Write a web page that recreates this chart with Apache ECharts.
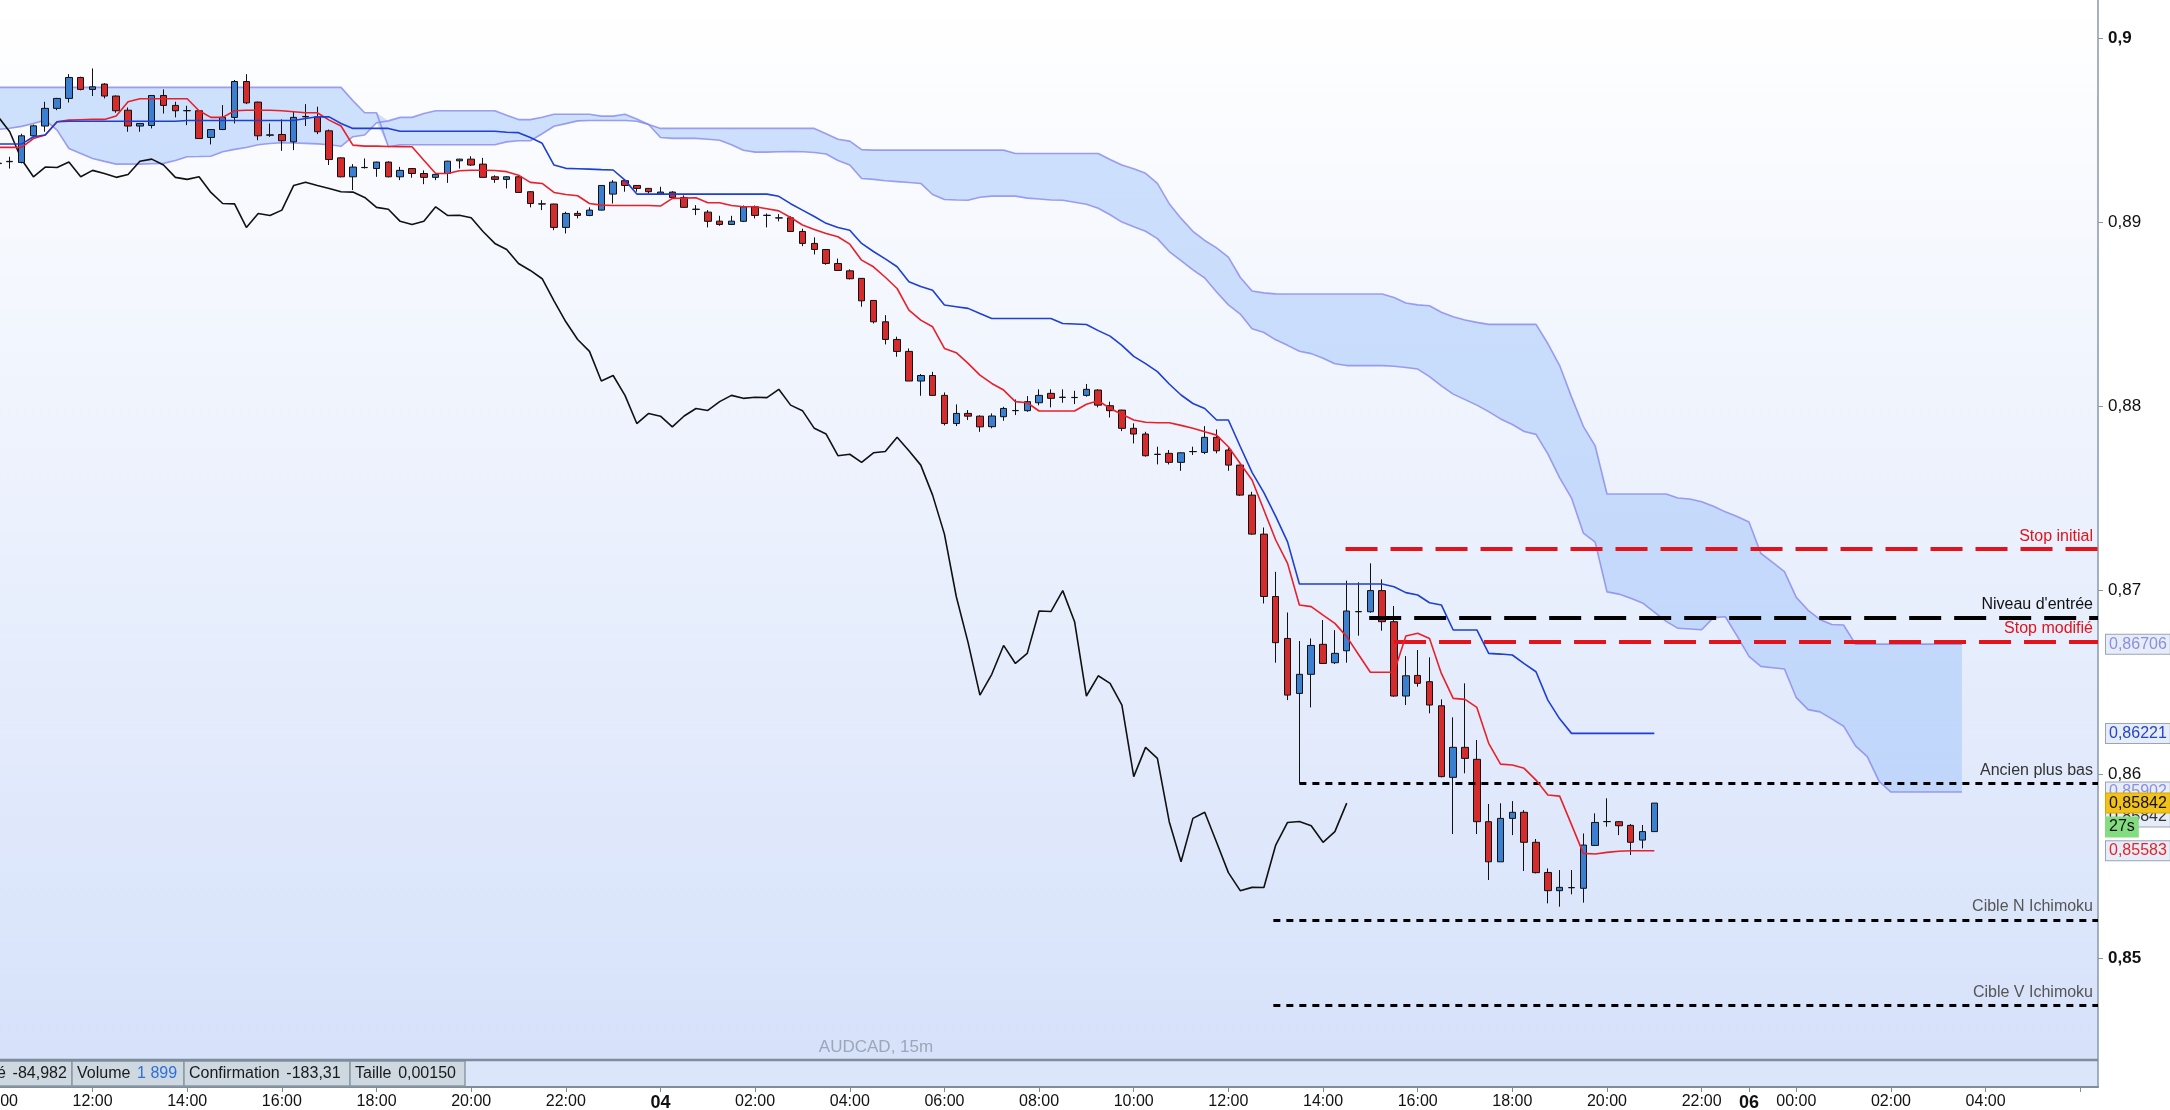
<!DOCTYPE html>
<html><head><meta charset="utf-8">
<script src="https://cdn.jsdelivr.net/npm/echarts@6/dist/echarts.min.js"></script>
<style>html,body{margin:0;padding:0;background:#fff;}#c{width:2170px;height:1110px;}</style>
</head><body><div id="c"></div>
<script>
// ---- candles (15m slots from 03 10:00) ----
const opens = [0.89320,0.89328,0.89324,0.89469,0.89522,0.89618,0.89672,0.89786,0.89721,0.89750,
0.89685,0.89608,0.89522,0.89525,0.89688,0.89634,0.89605,0.89605,0.89460,0.89503,
0.89569,0.89764,0.89652,0.89472,0.89476,0.89436,0.89572,0.89572,0.89496,0.89349,
0.89246,0.89296,0.89291,0.89326,0.89246,0.89291,0.89264,0.89243,0.89264,0.89333,
0.89342,0.89315,0.89246,0.89232,0.89246,0.89165,0.89098,0.89098,0.88971,0.89047,
0.89036,0.89065,0.89152,0.89225,0.89199,0.89183,0.89152,0.89163,0.89134,0.89069,
0.89054,0.89005,0.88987,0.89004,0.89083,0.89036,0.89022,0.89023,0.88949,0.88884,
0.88851,0.88775,0.88735,0.88694,0.88574,0.88458,0.88362,0.88297,0.88136,0.88166,
0.88058,0.87905,0.87960,0.87945,0.87888,0.87942,0.87975,0.87975,0.88018,0.88069,
0.88047,0.88047,0.88058,0.88087,0.88002,0.87978,0.87879,0.87848,0.87737,0.87743,
0.87694,0.87752,0.87748,0.87830,0.87761,0.87679,0.87516,0.87304,0.86965,0.86737,
0.86438,0.86542,0.86705,0.86605,0.86670,0.86882,0.86882,0.86997,0.86828,0.86424,
0.86536,0.86502,0.86371,0.85982,0.86145,0.86080,0.85741,0.85523,0.85759,0.85792,
0.85629,0.85465,0.85366,0.85382,0.85379,0.85612,0.85741,0.85741,0.85721,0.85641,
0.85687];
const closes = [0.89318,0.89330,0.89469,0.89523,0.89618,0.89672,0.89786,0.89721,0.89735,0.89685,
0.89605,0.89522,0.89536,0.89688,0.89634,0.89605,0.89606,0.89454,0.89503,0.89569,
0.89764,0.89648,0.89469,0.89474,0.89442,0.89569,0.89574,0.89491,0.89340,0.89246,
0.89299,0.89297,0.89326,0.89246,0.89281,0.89264,0.89243,0.89259,0.89331,0.89342,
0.89310,0.89243,0.89232,0.89246,0.89161,0.89101,0.89099,0.88971,0.89047,0.89036,
0.89065,0.89199,0.89217,0.89199,0.89183,0.89165,0.89163,0.89134,0.89080,0.89070,
0.89004,0.88987,0.89005,0.89083,0.89036,0.89037,0.89023,0.88949,0.88884,0.88851,
0.88775,0.88737,0.88692,0.88572,0.88458,0.88362,0.88297,0.88136,0.88166,0.88058,
0.87905,0.87960,0.87945,0.87887,0.87946,0.87987,0.87976,0.88024,0.88058,0.88042,
0.88048,0.88046,0.88091,0.88005,0.87975,0.87879,0.87848,0.87730,0.87738,0.87694,
0.87746,0.87753,0.87830,0.87757,0.87679,0.87516,0.87304,0.86965,0.86714,0.86429,
0.86542,0.86699,0.86601,0.86656,0.86886,0.86883,0.86997,0.86828,0.86424,0.86534,
0.86493,0.86375,0.85986,0.86145,0.86085,0.85741,0.85523,0.85759,0.85792,0.85629,
0.85464,0.85366,0.85384,0.85383,0.85614,0.85737,0.85742,0.85719,0.85629,0.85687,
0.85842];
const lows = [0.89310,0.89291,0.89319,0.89460,0.89491,0.89608,0.89650,0.89716,0.89685,0.89672,
0.89594,0.89491,0.89491,0.89509,0.89590,0.89569,0.89527,0.89452,0.89422,0.89500,
0.89536,0.89641,0.89445,0.89463,0.89387,0.89391,0.89522,0.89478,0.89310,0.89243,
0.89174,0.89291,0.89246,0.89243,0.89228,0.89241,0.89206,0.89228,0.89213,0.89291,
0.89305,0.89243,0.89213,0.89183,0.89158,0.89080,0.89065,0.88956,0.88938,0.89020,
0.89032,0.89063,0.89101,0.89165,0.89165,0.89156,0.89147,0.89129,0.89078,0.89038,
0.88971,0.88980,0.88985,0.89000,0.89020,0.88971,0.89004,0.88947,0.88869,0.88824,
0.88768,0.88737,0.88688,0.88540,0.88449,0.88335,0.88268,0.88136,0.88056,0.88056,
0.87895,0.87891,0.87924,0.87860,0.87879,0.87920,0.87951,0.87969,0.88004,0.87993,
0.88018,0.88011,0.88051,0.87993,0.87938,0.87864,0.87797,0.87725,0.87683,0.87683,
0.87648,0.87734,0.87739,0.87743,0.87648,0.87511,0.87300,0.86927,0.86605,0.86402,
0.85949,0.86362,0.86598,0.86598,0.86605,0.86752,0.86877,0.86779,0.86420,0.86375,
0.86475,0.86330,0.85982,0.85674,0.86004,0.85674,0.85424,0.85523,0.85668,0.85473,
0.85460,0.85297,0.85279,0.85346,0.85301,0.85609,0.85714,0.85668,0.85560,0.85596,
0.85687];
const highs = [0.89325,0.89355,0.89480,0.89530,0.89654,0.89675,0.89804,0.89790,0.89835,0.89755,
0.89688,0.89623,0.89538,0.89690,0.89721,0.89654,0.89632,0.89607,0.89505,0.89636,
0.89772,0.89804,0.89655,0.89536,0.89558,0.89603,0.89641,0.89627,0.89503,0.89352,
0.89315,0.89346,0.89328,0.89330,0.89300,0.89293,0.89281,0.89261,0.89333,0.89344,
0.89358,0.89349,0.89254,0.89250,0.89250,0.89168,0.89119,0.89100,0.89056,0.89061,
0.89080,0.89201,0.89228,0.89232,0.89200,0.89185,0.89192,0.89168,0.89145,0.89092,
0.89065,0.89034,0.89034,0.89090,0.89090,0.89047,0.89043,0.89032,0.88964,0.88917,
0.88853,0.88802,0.88743,0.88696,0.88576,0.88494,0.88377,0.88313,0.88174,0.88186,
0.88074,0.88009,0.87978,0.87950,0.87960,0.87996,0.88036,0.88054,0.88091,0.88091,
0.88091,0.88083,0.88120,0.88091,0.88024,0.87980,0.87906,0.87860,0.87779,0.87761,
0.87748,0.87779,0.87891,0.87873,0.87775,0.87681,0.87534,0.87340,0.87099,0.86878,
0.86723,0.86737,0.86837,0.86782,0.87051,0.87042,0.87145,0.87058,0.86913,0.86641,
0.86674,0.86634,0.86406,0.86308,0.86493,0.86185,0.85837,0.85841,0.85853,0.85804,
0.85647,0.85487,0.85478,0.85478,0.85677,0.85786,0.85868,0.85743,0.85728,0.85723,
0.85842];
// ---- Ichimoku lines ----
const tenkan = [0.89406,0.89406,0.89406,0.89454,0.89473,0.89545,0.89554,0.89556,0.89558,0.89558,
0.89576,0.89654,0.89670,0.89670,0.89670,0.89670,0.89670,0.89605,0.89569,0.89569,
0.89605,0.89608,0.89608,0.89608,0.89605,0.89600,0.89594,0.89594,0.89554,0.89522,
0.89418,0.89413,0.89413,0.89411,0.89410,0.89409,0.89336,0.89264,0.89264,0.89279,
0.89282,0.89282,0.89280,0.89274,0.89255,0.89216,0.89210,0.89161,0.89150,0.89143,
0.89101,0.89092,0.89090,0.89090,0.89090,0.89090,0.89087,0.89129,0.89130,0.89132,
0.89105,0.89105,0.89090,0.89083,0.89083,0.89072,0.89061,0.89025,0.88984,0.88960,
0.88938,0.88920,0.88880,0.88793,0.88757,0.88700,0.88639,0.88522,0.88467,0.88431,
0.88313,0.88290,0.88232,0.88168,0.88123,0.88087,0.88024,0.88018,0.87973,0.87973,
0.87973,0.87973,0.88010,0.88029,0.87987,0.87955,0.87924,0.87912,0.87909,0.87909,
0.87895,0.87879,0.87860,0.87842,0.87779,0.87688,0.87598,0.87435,0.87272,0.87145,
0.86919,0.86910,0.86864,0.86819,0.86747,0.86650,0.86553,0.86553,0.86553,0.86750,
0.86765,0.86737,0.86547,0.86411,0.86406,0.86362,0.86167,0.86054,0.86049,0.86031,
0.85967,0.85886,0.85880,0.85725,0.85569,0.85565,0.85574,0.85580,0.85583,0.85583,
0.85583];
const kijun = [0.89424,0.89424,0.89424,0.89464,0.89473,0.89545,0.89548,0.89548,0.89548,0.89548,
0.89548,0.89548,0.89548,0.89548,0.89548,0.89548,0.89552,0.89552,0.89552,0.89552,
0.89552,0.89552,0.89552,0.89552,0.89552,0.89552,0.89563,0.89572,0.89572,0.89536,
0.89509,0.89509,0.89509,0.89509,0.89494,0.89494,0.89494,0.89494,0.89494,0.89494,
0.89494,0.89494,0.89494,0.89488,0.89486,0.89460,0.89428,0.89310,0.89292,0.89290,
0.89288,0.89285,0.89283,0.89228,0.89152,0.89152,0.89152,0.89152,0.89152,0.89152,
0.89152,0.89152,0.89152,0.89152,0.89152,0.89152,0.89140,0.89100,0.89065,0.89030,
0.88993,0.88970,0.88956,0.88884,0.88840,0.88800,0.88757,0.88676,0.88650,0.88630,
0.88549,0.88540,0.88531,0.88503,0.88476,0.88476,0.88476,0.88476,0.88476,0.88476,
0.88449,0.88446,0.88443,0.88410,0.88380,0.88330,0.88270,0.88231,0.88187,0.88120,
0.88060,0.88014,0.87987,0.87924,0.87924,0.87780,0.87640,0.87530,0.87400,0.87262,
0.87033,0.87033,0.87033,0.87033,0.87033,0.87033,0.87033,0.87033,0.87018,0.86986,
0.86973,0.86931,0.86919,0.86783,0.86783,0.86783,0.86656,0.86652,0.86647,0.86600,
0.86556,0.86402,0.86300,0.86221,0.86221,0.86221,0.86221,0.86221,0.86221,0.86221,
0.86221];
const senkouA = [0.89503,0.89510,0.89520,0.89536,0.89554,0.89500,0.89400,0.89373,0.89346,0.89330,
0.89315,0.89315,0.89315,0.89317,0.89319,0.89335,0.89355,0.89356,0.89358,0.89382,
0.89395,0.89405,0.89420,0.89427,0.89431,0.89430,0.89428,0.89425,0.89420,0.89412,
0.89464,0.89473,0.89540,0.89550,0.89569,0.89569,0.89590,0.89605,0.89605,0.89605,
0.89605,0.89605,0.89605,0.89580,0.89557,0.89557,0.89570,0.89586,0.89586,0.89586,
0.89586,0.89576,0.89576,0.89586,0.89560,0.89530,0.89460,0.89455,0.89455,0.89455,
0.89450,0.89445,0.89420,0.89390,0.89380,0.89380,0.89382,0.89383,0.89382,0.89378,
0.89370,0.89335,0.89310,0.89237,0.89232,0.89225,0.89220,0.89215,0.89210,0.89150,
0.89123,0.89120,0.89119,0.89135,0.89141,0.89141,0.89141,0.89130,0.89125,0.89120,
0.89119,0.89108,0.89097,0.89075,0.89040,0.89000,0.88974,0.88950,0.88910,0.88840,
0.88790,0.88740,0.88696,0.88620,0.88550,0.88500,0.88420,0.88400,0.88360,0.88330,
0.88298,0.88285,0.88260,0.88230,0.88220,0.88220,0.88220,0.88220,0.88216,0.88210,
0.88201,0.88160,0.88110,0.88065,0.88035,0.88005,0.87970,0.87930,0.87900,0.87862,
0.87846,0.87740,0.87610,0.87500,0.87310,0.87260,0.86990,0.86978,0.86955,0.86930,
0.86880,0.86830,0.86792,0.86788,0.86784,0.86850,0.86855,0.86750,0.86640,0.86585,
0.86578,0.86571,0.86415,0.86350,0.86338,0.86300,0.86260,0.86153,0.86095,0.85960,
0.85902,0.85902,0.85902,0.85902,0.85902,0.85902,0.85902];
const senkouB = [0.89732,0.89732,0.89732,0.89732,0.89732,0.89732,0.89732,0.89732,0.89732,0.89732,
0.89732,0.89732,0.89732,0.89732,0.89732,0.89732,0.89732,0.89732,0.89732,0.89732,
0.89732,0.89732,0.89732,0.89732,0.89732,0.89732,0.89732,0.89732,0.89732,0.89732,
0.89660,0.89594,0.89594,0.89409,0.89420,0.89420,0.89420,0.89420,0.89420,0.89420,
0.89420,0.89420,0.89420,0.89436,0.89442,0.89442,0.89480,0.89521,0.89535,0.89550,
0.89552,0.89552,0.89552,0.89552,0.89548,0.89530,0.89509,0.89509,0.89509,0.89509,
0.89509,0.89509,0.89509,0.89509,0.89509,0.89509,0.89509,0.89509,0.89509,0.89509,
0.89480,0.89450,0.89440,0.89394,0.89391,0.89391,0.89391,0.89391,0.89391,0.89391,
0.89391,0.89391,0.89391,0.89391,0.89391,0.89391,0.89373,0.89373,0.89373,0.89373,
0.89373,0.89373,0.89373,0.89373,0.89340,0.89310,0.89290,0.89265,0.89210,0.89100,
0.89020,0.88950,0.88900,0.88860,0.88810,0.88700,0.88625,0.88615,0.88610,0.88609,
0.88609,0.88609,0.88609,0.88609,0.88609,0.88609,0.88609,0.88609,0.88590,0.88560,
0.88550,0.88545,0.88510,0.88485,0.88468,0.88455,0.88444,0.88444,0.88444,0.88444,
0.88444,0.88340,0.88220,0.88050,0.87890,0.87784,0.87522,0.87522,0.87522,0.87522,
0.87522,0.87522,0.87500,0.87495,0.87480,0.87455,0.87425,0.87400,0.87370,0.87200,
0.87150,0.87100,0.86960,0.86890,0.86840,0.86813,0.86810,0.86706,0.86706,0.86706,
0.86706,0.86706,0.86706,0.86706,0.86706,0.86706,0.86706];
const chikouShift = 26;
// ---- x ticks ----
const slotCount = 178;
const tickSlots  = [0,8,16,24,32,40,48,56,64,72,80,88,96,104,112,120,128,136,144,148,152,160,168,176];
const tickLabels = ['10:00','12:00','14:00','16:00','18:00','20:00','22:00','04','02:00','04:00','06:00','08:00','10:00','12:00','14:00','16:00','18:00','20:00','22:00','06','00:00','02:00','04:00',''];
const boldTicks = ['04','06'];
// ---- drawn levels ----
const levelNames  = ['Stop initial', "Niveau d'entrée", 'Stop modifié', 'Ancien plus bas', 'Cible N Ichimoku', 'Cible V Ichimoku'];
const levelValues = [0.87222, 0.86852, 0.86719, 0.85950, 0.85207, 0.84741];
const levelStarts = [113.9, 115.9, 118.0, 110.0, 107.8, 107.8];
// ---- price tags on the axis ----
const tagTexts  = ['0,86706','0,86221','0,85902','0,85842','0,85842','27s','0,85583'];
const tagValues = [0.86706, 0.86221, 0.85902, 0.85766, 0.85842, 0.85712, 0.85583];
// ---- info bar ----
const infoItems = [['é','-84,982'],['Volume','1 899'],['Confirmation','-183,31'],['Taille','0,00150']];
const symbolText = 'AUDCAD, 15m';

// ================= chart =================
const FONT = 'Liberation Sans, Arial, sans-serif';
const cats = [];
for (let i = 0; i < slotCount; i++) cats.push(String(i));
const labelMap = {};
tickSlots.forEach((s, k) => { labelMap[s] = tickLabels[k]; });
const showTick = (idx) => Object.prototype.hasOwnProperty.call(labelMap, idx);

const candleData = opens.map((o, i) => [o, closes[i], lows[i], highs[i]]);
const chikou = closes.slice(chikouShift);
const cloudBase = senkouA.map((a, i) => Math.min(a, senkouB[i]));
const cloudBand = senkouA.map((a, i) => Math.abs(a - senkouB[i]));

const levelStyle = [
  {color:'#e3131b', width:4, type:[32,13], text:'#e3131b'},
  {color:'#000000', width:4, type:[32,13], text:'#111111'},
  {color:'#e3131b', width:4, type:[32,13], text:'#e3131b'},
  {color:'#000000', width:3, type:[7,6],  text:'#333333'},
  {color:'#000000', width:3, type:[7,6],  text:'#555555'},
  {color:'#000000', width:3, type:[7,6],  text:'#555555'}
];
const levelLines = levelNames.map((n, k) => [
  {coord:[levelStarts[k], levelValues[k]], lineStyle:{color:levelStyle[k].color, width:levelStyle[k].width, type:levelStyle[k].type},
   label:{show:true, position:'insideEndTop', distance:5, formatter:n, color:levelStyle[k].text, fontSize:16, fontFamily:FONT}},
  {coord:[177.5, levelValues[k]]}
]);
const tagStyle = [
  {color:'#8c90dc', bg:'#e6ecf8', border:'#9aa4b8'},
  {color:'#2446c8', bg:'#e6ecf8', border:'#9aa4b8'},
  {color:'#8c90dc', bg:'#e6ecf8', border:'#9aa4b8'},
  {color:'#333333', bg:'#e6ecf8', border:'#9aa4b8'},
  {color:'#111111', bg:'#f3c21a', border:'#d9a800'},
  {color:'#111111', bg:'#83dc80', border:'#83dc80'},
  {color:'#e0262a', bg:'#e6ecf8', border:'#9aa4b8'}
];
const tagLines = tagTexts.map((t, k) => [
  {coord:[176, tagValues[k]], lineStyle:{color:'rgba(0,0,0,0)', width:1, type:'solid'},
   label:{show:true, position:'end', distance:8, formatter:t, color:tagStyle[k].color, backgroundColor:tagStyle[k].bg,
          borderColor:tagStyle[k].border, borderWidth:1, padding:[2,3,1,3], fontSize:16, fontFamily:FONT}},
  {coord:[177.5, tagValues[k]]}
]);

const BX = [-4, 72, 184, 350];
const BW = [76, 112, 166, 115];
const graphics = [
  {type:'rect', z:10, shape:{x:0, y:1060, width:2097, height:26}, style:{fill:'#dce6fa'}},
  {type:'line', z:12, shape:{x1:0, y1:1060, x2:2098, y2:1060}, style:{stroke:'#7f8c99', lineWidth:2.5}},
  {type:'text', z:12, x:876, y:1047, style:{text:symbolText, fill:'#9ea6b6', font:'17px '+FONT, textAlign:'center', textVerticalAlign:'middle'}}
];
infoItems.forEach((it, k) => {
  graphics.push({type:'rect', z:11, shape:{x:BX[k], y:1061, width:BW[k], height:25}, style:{fill:'#cdd8e1', stroke:'#8c99a5', lineWidth:1.5}});
  graphics.push({type:'text', z:12, x:BX[k] + (k === 0 ? 1 : 5), y:1074,
    style:{rich:{a:{fill:'#1a1a1a', font:'16px '+FONT}, v:{fill: k === 1 ? '#2f6fd8' : '#1a1a1a', font:'16px '+FONT}},
           text:'{a|' + it[0] + '}  {v|' + it[1] + '}', textVerticalAlign:'middle'}});
});

const option = {
  animation:false,
  backgroundColor:'#ffffff',
  grid:{left:-8, right:72, top:0, bottom:23, show:true, borderWidth:0, containLabel:false, outerBoundsMode:'none',
    backgroundColor:{type:'linear', x:0, y:0, x2:0, y2:1, colorStops:[{offset:0, color:'#ffffff'},{offset:1, color:'#d5e1fa'}]}},
  xAxis:[
    {type:'category', data:cats, boundaryGap:true,
     axisLine:{show:true, onZero:false, lineStyle:{color:'#7f8c99', width:2}},
     axisTick:{show:true, alignWithLabel:true, interval:(i) => showTick(i), length:5, lineStyle:{color:'#7f8c99'}},
     axisLabel:{interval:(i) => showTick(i), margin:7, color:'#111', fontSize:16, fontFamily:FONT, hideOverlap:false,
       formatter:(v) => { const t = labelMap[+v] || ''; return boldTicks.indexOf(t) >= 0 ? '{b|' + t + '}' : t; },
       rich:{b:{fontWeight:'bold', fontSize:18, fontFamily:FONT, color:'#111'}}},
     splitLine:{show:false}},
    {type:'value', min:-0.5, max:177.5, show:false, axisLine:{onZero:false}}
  ],
  yAxis:[{type:'value', position:'right', min:0.84299, max:0.90207, splitNumber:5,
    axisLine:{show:true, onZero:false, lineStyle:{color:'#8a98a8', width:1.5}},
    axisTick:{show:true, length:5, lineStyle:{color:'#8a98a8'}},
    splitLine:{show:false},
    axisLabel:{showMinLabel:false, showMaxLabel:false, margin:10, color:'#111', fontSize:17, fontFamily:FONT,
      formatter:(v) => { const r = Math.round(v * 100) / 100; if (Math.abs(v - r) > 1e-7) return '';
        const s = String(r).replace('.', ','); return (Math.abs(r - 0.9) < 1e-7 || Math.abs(r - 0.85) < 1e-7) ? '{b|' + s + '}' : s; },
      rich:{b:{fontWeight:'bold', fontSize:17, fontFamily:FONT, color:'#111'}}}}],
  graphic:graphics,
  series:[
    {name:'cloudBase', type:'line', stack:'cloud', data:cloudBase, symbol:'none', lineStyle:{opacity:0}, silent:true, z:1},
    {name:'cloudBand', type:'line', stack:'cloud', data:cloudBand, symbol:'none', lineStyle:{opacity:0},
     areaStyle:{color:'rgba(160,196,250,0.5)', opacity:1}, silent:true, z:1},
    {name:'senkouA', type:'line', data:senkouA, symbol:'none', lineStyle:{color:'rgba(130,130,235,0.75)', width:1.6}, silent:true, z:2},
    {name:'senkouB', type:'line', data:senkouB, symbol:'none', lineStyle:{color:'rgba(130,130,235,0.75)', width:1.6}, silent:true, z:2},
    {name:'chikou', type:'line', data:chikou, symbol:'none', lineStyle:{color:'#111111', width:1.6}, silent:true, z:3},
    {name:'candles', type:'candlestick', data:candleData, barWidth:7, silent:true, z:4,
     itemStyle:{color:'#3b80d0', color0:'#d42c2c', borderColor:'#111111', borderColor0:'#111111', borderWidth:1}},
    {name:'tenkan', type:'line', data:tenkan, symbol:'none', lineStyle:{color:'#e8202a', width:1.6}, silent:true, z:5},
    {name:'kijun', type:'line', data:kijun, symbol:'none', lineStyle:{color:'#1e3fd2', width:1.6}, silent:true, z:5},
    {name:'levels', type:'line', xAxisIndex:1, yAxisIndex:0, data:[], z:6,
     markLine:{silent:true, symbol:['none','none'], animation:false, precision:5, data:levelLines.concat(tagLines)}}
  ]
};
const chart = echarts.init(document.getElementById('c'), null, {renderer:'canvas'});
chart.setOption(option);
</script></body></html>
